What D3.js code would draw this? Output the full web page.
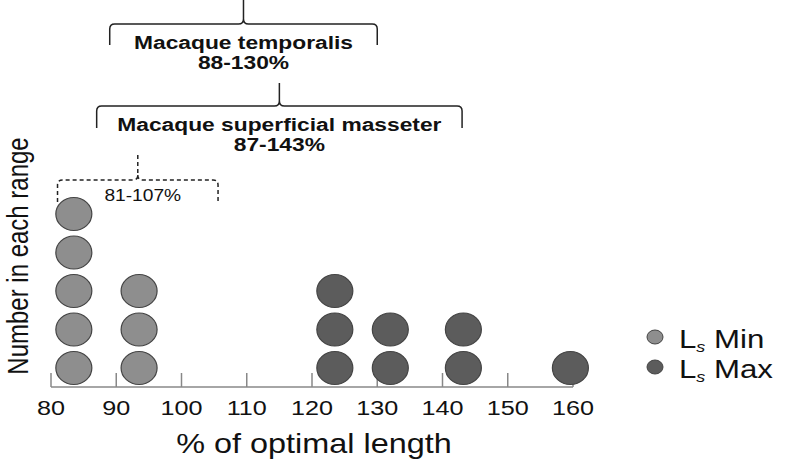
<!DOCTYPE html>
<html>
<head>
<meta charset="utf-8">
<script src="https://cdn.jsdelivr.net/npm/d3@7"></script>
<style>
  body { margin: 0; background: #fff; }
  text { font-family: "Liberation Sans", Arial, sans-serif; }
</style>
</head>
<body>
<script>
// Values
var minBins = [83.5, 93.5];
var minCounts = [5, 3];
var maxBins = [123.5, 132, 143.2, 159.6];
var maxCounts = [3, 2, 2, 1];
var xTicks = [80, 90, 100, 110, 120, 130, 140, 150, 160];

// Range brackets above the dots
var braceNames = ["Macaque temporalis", "Macaque superficial masseter", ""];
var braceLabels = ["88-130%", "87-143%", "81-107%"];
var braceFrom = [89, 87, 81];
var braceTo = [130, 143, 105.6];

var w = 791;
var h = 462;
var sx = 1.2; // figure text is stretched sideways

var svg = d3.select("body")
    .append("svg")
    .attr("width", w)
    .attr("height", h);

var xScale = d3.scaleLinear()
    .domain([80, 160])
    .range([51, 573]);

var yScale = d3.scaleLinear()
    .domain([1, 5])
    .range([368, 214]);

// text helper: stretched horizontally like the source image
function label(x, y, str, size, opts) {
    opts = opts || {};
    var g = svg.append("g")
        .attr("transform", "translate(" + x + "," + y + ") scale(" + sx + ",1)" + (opts.rotate ? " rotate(" + opts.rotate + ")" : ""));
    var t = g.append("text")
        .attr("text-anchor", opts.anchor || "middle")
        .attr("font-size", size + "px")
        .attr("font-weight", opts.bold ? "bold" : "normal")
        .attr("fill", "#111")
        .text(str);
    return t;
}

// axis line + ticks pointing up
var axisY = 387;
svg.append("line")
    .attr("x1", xScale(80)).attr("x2", xScale(160))
    .attr("y1", axisY).attr("y2", axisY)
    .attr("stroke", "#888")
    .attr("stroke-width", 1.5);

svg.selectAll(".tick")
    .data(xTicks)
    .enter()
    .append("line")
    .attr("class", "tick")
    .attr("x1", d => xScale(d)).attr("x2", d => xScale(d))
    .attr("y1", axisY).attr("y2", axisY - 14)
    .attr("stroke", "#888")
    .attr("stroke-width", 1.5);

xTicks.forEach(function (d) {
    label(xScale(d), 415, d, 21);
});

// dots, one per count
function stack(bins, counts) {
    var out = [];
    bins.forEach(function (b, i) {
        for (var k = 1; k <= counts[i]; k++) out.push({ x: b, n: k });
    });
    return out;
}

function drawDots(data, fill, cls) {
    svg.selectAll("." + cls)
        .data(data)
        .enter()
        .append("ellipse")
        .attr("class", cls)
        .attr("cx", d => xScale(d.x))
        .attr("cy", d => yScale(d.n))
        .attr("rx", 18)
        .attr("ry", 16.5)
        .attr("fill", fill)
        .attr("stroke", "#444")
        .attr("stroke-width", 1.2);
}

drawDots(stack(minBins, minCounts), "#8e8e8e", "dmin");
drawDots(stack(maxBins, maxCounts), "#5c5c5c", "dmax");

// axis titles
label(314, 453, "% of optimal length", 27);
label(28, 256, "Number in each range", 24, { rotate: -90 });

// braces
var braceTop = [24, 106, 180];
var braceEnd = [45, 128, 202];
var braceApex = [0, 83, 155];

function bracePath(x0, x1, yt, ye, ya) {
    var r = 5;
    var xc = (x0 + x1) / 2;
    return "M" + x0 + "," + ye +
        " L" + x0 + "," + (yt + r) +
        " Q" + x0 + "," + yt + " " + (x0 + r) + "," + yt +
        " L" + (xc - r) + "," + yt +
        " Q" + xc + "," + yt + " " + xc + "," + (yt - r) +
        " L" + xc + "," + ya +
        " M" + xc + "," + (yt - r) +
        " Q" + xc + "," + yt + " " + (xc + r) + "," + yt +
        " L" + (x1 - r) + "," + yt +
        " Q" + x1 + "," + yt + " " + x1 + "," + (yt + r) +
        " L" + x1 + "," + ye;
}

braceFrom.forEach(function (f, i) {
    var x0 = xScale(f), x1 = xScale(braceTo[i]);
    var xc = (x0 + x1) / 2;
    svg.append("path")
        .attr("d", bracePath(x0, x1, braceTop[i], braceEnd[i], braceApex[i]))
        .attr("fill", "none")
        .attr("stroke", "#222")
        .attr("stroke-width", 1.5)
        .attr("stroke-dasharray", i === 2 ? "4,3" : null);
    if (braceNames[i]) {
        label(xc, braceTop[i] + 25, braceNames[i], 19, { bold: true });
        label(xc, braceTop[i] + 45, braceLabels[i], 19, { bold: true });
    } else {
        label(xc + 5, braceTop[i] + 21, braceLabels[i], 16);
    }
});

// legend
var legend = [
    { name: "Min", fill: "#8e8e8e", y: 337 },
    { name: "Max", fill: "#5c5c5c", y: 367 }
];
legend.forEach(function (d) {
    svg.append("ellipse")
        .attr("cx", 655).attr("cy", d.y)
        .attr("rx", 8).attr("ry", 7)
        .attr("fill", d.fill)
        .attr("stroke", "#444")
        .attr("stroke-width", 1);
    var t = label(679, d.y + 11, "L", 26, { anchor: "start" });
    t.append("tspan")
        .attr("font-size", "15px")
        .attr("font-style", "italic")
        .attr("dy", 4)
        .text("s");
    t.append("tspan")
        .attr("dy", -4)
        .text(" " + d.name);
});
</script>
</body>
</html>
